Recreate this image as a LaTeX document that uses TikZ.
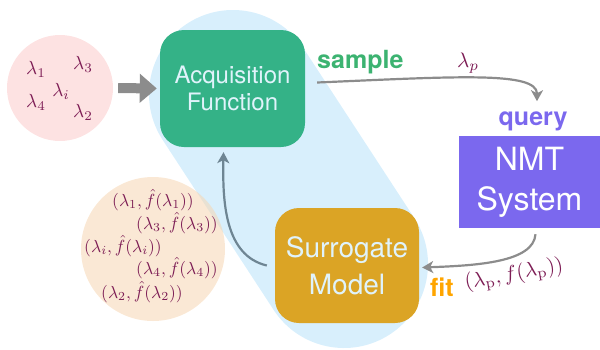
\documentclass[tikz,border=0pt]{standalone}
\usepackage{amsmath}
\usepackage{fontspec}
\setsansfont{TeX Gyre Heros}
\usetikzlibrary{arrows.meta,calc}
\definecolor{acqgreen}{HTML}{34B287}
\definecolor{surrgold}{HTML}{DBA425}
\definecolor{nmtpurple}{HTML}{7B68EE}
\definecolor{boxtext}{HTML}{E0F3FB}
\definecolor{loopblue}{HTML}{D8EFFC}
\definecolor{poolpink}{HTML}{FDE2E2}
\definecolor{histpeach}{HTML}{F6D6B2}
\definecolor{mathred}{HTML}{7D1D55}
\definecolor{samplegreen}{HTML}{3CB371}
\definecolor{fitorange}{HTML}{FFA500}
\definecolor{arrowgray}{HTML}{8C8C8C}
\definecolor{backgray}{HTML}{6E8593}
\tikzset{
  box/.style={rounded corners=24pt, align=center, text=boxtext, inner sep=0pt},
  lbl/.style={text=mathred, inner sep=0pt},
  word/.style={font=\sffamily\bfseries\fontsize{25}{28}\selectfont, inner sep=0pt},
  flow/.style={-{Stealth[length=11pt,width=12pt,inset=3pt]}, line width=2.2pt},
  bigarrow/.style={-{Triangle[length=17pt,width=28pt]}, line width=10pt, draw=arrowgray}
}

\begin{document}
\begin{tikzpicture}[x=1pt,y=-1pt]
  \useasboundingbox (0,0) rectangle (600,349);
  % loop background
  \draw[line width=168pt, line cap=round, draw=loopblue] (233,94) -- (344,264);
  % candidate pool
  \node[circle, fill=poolpink, minimum size=106pt, inner sep=0pt] (pool) at (60,88) {};
  \node[lbl, scale=1.9] (l1) at (36,69) {$\lambda_1$};
  \node[lbl, scale=1.9] (l3) at (83,64) {$\lambda_3$};
  \node[lbl, scale=1.9] (li) at (61,91) {$\lambda_i$};
  \node[lbl, scale=1.9] (l4) at (36,102) {$\lambda_4$};
  \node[lbl, scale=1.9] (l2) at (83,112) {$\lambda_2$};
  % history
  \node[circle, fill=histpeach, fill opacity=0.55, minimum size=144pt, inner sep=0pt] (hist) at (153,249) {};
  \node[lbl, scale=1.75] (h1) at (153,200) {$(\lambda_1,\hat{f}(\lambda_1))$};
  \node[lbl, scale=1.75] (h3) at (177,223) {$(\lambda_3,\hat{f}(\lambda_3))$};
  \node[lbl, scale=1.75] (hi) at (123,246) {$(\lambda_i,\hat{f}(\lambda_i))$};
  \node[lbl, scale=1.75] (h4) at (177,268) {$(\lambda_4,\hat{f}(\lambda_4))$};
  \node[lbl, scale=1.75] (h2) at (142,292) {$(\lambda_2,\hat{f}(\lambda_2))$};
  % boxes
  \node[box, fill=acqgreen, minimum width=145pt, minimum height=117pt,
        font=\sffamily\fontsize{24}{27}\selectfont] (acq) at (232.5,88.5) {Acquisition\\Function};
  \node[box, fill=surrgold, minimum width=144pt, minimum height=115pt,
        font=\sffamily\fontsize{28}{37}\selectfont] (surr) at (347,265.5) {Surrogate\\Model};
  \node[box, rounded corners=0pt, fill=nmtpurple, text=white, minimum width=141pt, minimum height=92pt,
        font=\sffamily\fontsize{32}{40}\selectfont] (nmt) at (529.5,182) {NMT\\System};
  % words
  \node[word, text=samplegreen, anchor=west] (sample) at (317,62) {sample};
  \node[word, text=nmtpurple] (query) at (533,121) {query};
  \node[word, text=fitorange] (fit) at (442,287) {fit};
  \node[lbl, scale=2.1] (lp) at (468,63) {$\lambda_p$};
  \node[lbl, scale=2.1, rotate=10] (pair) at (514,275) {$(\lambda_{\mathrm{p}},f(\lambda_{\mathrm{p}}))$};
  % arrows
  \draw[bigarrow, shorten <=5pt, shorten >=3pt] (pool.east) -- (acq.west);
  \draw[flow, draw=arrowgray] ($(acq.east)+(12,-6)$) .. controls +(140,-6) and +(0,-30) .. ($(query.north)+(4,-10)$);
  \draw[flow, draw=arrowgray] ($(nmt.south)+(6,6)$) .. controls +(-2,28) and +(55,-2) .. ($(surr.east)+(3,2)$);
  \draw[flow, draw=backgray] ($(surr.west)+(-8,0)$) .. controls +(-42,-10) and +(-1,50) .. ($(acq.south)+(-9,5)$);
\end{tikzpicture}
\end{document}
